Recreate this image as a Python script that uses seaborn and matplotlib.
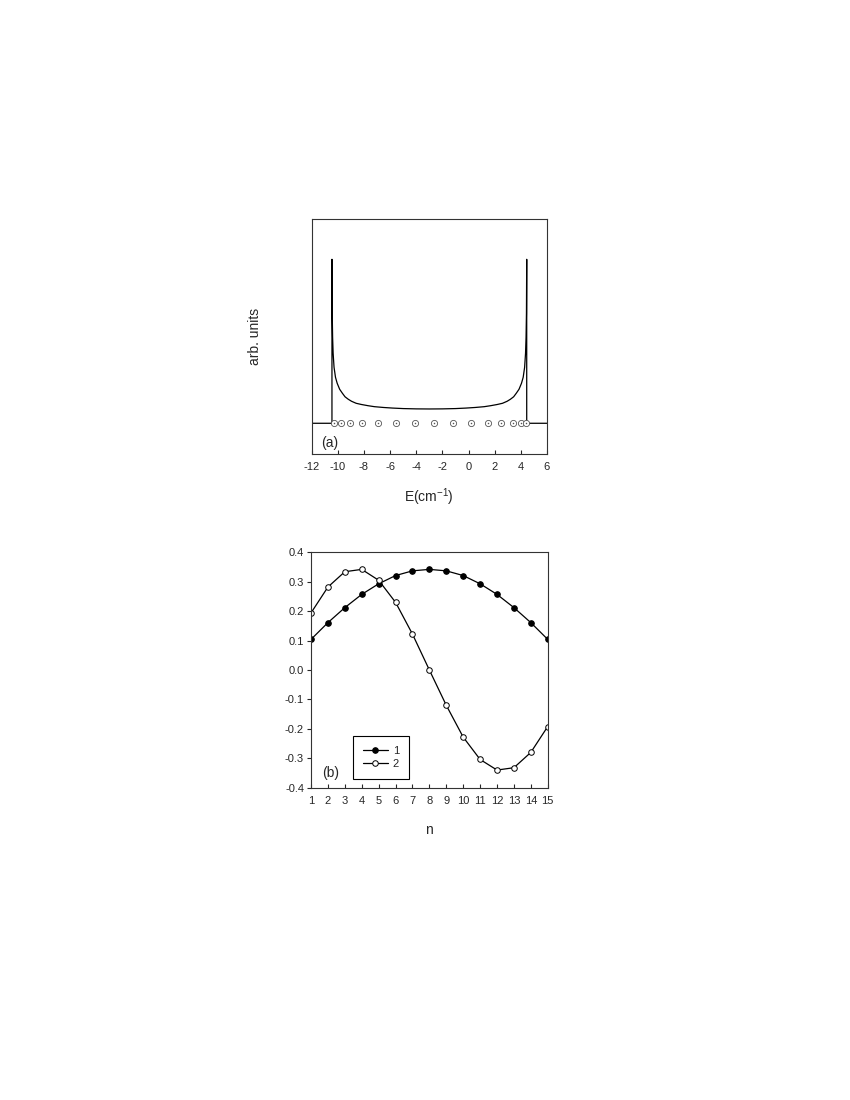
import numpy as np
import pandas as pd
import matplotlib
matplotlib.use("Agg")
import matplotlib.pyplot as plt
import seaborn as sns

sns.set_style("ticks")
plt.rcParams['font.family'] = ['Liberation Sans', 'DejaVu Sans']
plt.rcParams['axes.unicode_minus'] = False
plt.rcParams['mathtext.fontset'] = 'custom'
plt.rcParams['mathtext.rm'] = 'Liberation Sans'
plt.rcParams['mathtext.it'] = 'Liberation Sans'
plt.rcParams['mathtext.default'] = 'regular'

# %%
# (a) spectrum (arb. units, baseline = 0)
energy = [-12.0, -10.45, -10.45, -10.43, -10.40, -10.36, -10.29, -10.18, -10.05,
          -9.86, -9.65, -9.45, -9.20, -8.95, -8.60, -8.20, -7.70, -7.20, -6.50,
          -5.80, -5.00, -4.00, -3.00, -2.00, -1.00, -0.20, 0.50, 1.20, 1.70,
          2.20, 2.60, 2.95, 3.20, 3.45, 3.65, 3.86, 4.05, 4.18, 4.29, 4.36,
          4.40, 4.43, 4.45, 4.45, 6.0]
dos = [0.0, 0.0, 16.4, 11.0, 8.6, 7.0, 5.6, 4.6, 4.0,
       3.4, 3.0, 2.65, 2.4, 2.2, 2.0, 1.88, 1.76, 1.66, 1.58,
       1.52, 1.47, 1.44, 1.43, 1.44, 1.47, 1.52, 1.58, 1.66, 1.76,
       1.88, 2.0, 2.2, 2.4, 2.65, 3.0, 3.4, 4.0, 4.6, 5.6, 7.0,
       8.6, 11.0, 16.4, 0.0, 0.0]
levels = [-10.30, -9.79, -9.07, -8.14, -6.93, -5.56, -4.10, -2.63, -1.18,
          0.20, 1.48, 2.49, 3.38, 3.99, 4.39]

# (b) amplitudes on the sites
site = list(range(1, 16))
state1 = [0.104, 0.161, 0.212, 0.257, 0.293, 0.321, 0.337, 0.342,
          0.337, 0.321, 0.293, 0.257, 0.212, 0.161, 0.104]
state2 = [0.194, 0.282, 0.334, 0.342, 0.305, 0.230, 0.122, 0.0,
          -0.120, -0.228, -0.304, -0.340, -0.332, -0.280, -0.192]
ytick_vals = [-0.4, -0.3, -0.2, -0.1, 0.0, 0.1, 0.2, 0.3, 0.4]
ytick_labels = ['-0.4', '-0.3', '-0.2', '-0.1', '0.0', '0.1', '0.2', '0.3', '0.4']

# %%
fig = plt.figure(figsize=(8.5, 11), dpi=100)
ax1 = fig.add_axes([0.3667, 0.5873, 0.2768, 0.2136])
ax2 = fig.add_axes([0.3659, 0.2839, 0.2785, 0.2140])

spec = pd.DataFrame({'E': energy, 'dos': dos})
sns.lineplot(data=spec, x='E', y='dos', sort=False, estimator=None,
             color='black', lw=0.9, ax=ax1)
lv = pd.DataFrame({'E': levels, 'y': np.zeros(len(levels))})
sns.scatterplot(data=lv, x='E', y='y', marker='o', s=20, facecolor='white',
                edgecolor='#555555', linewidth=0.6, ax=ax1, zorder=3)
sns.scatterplot(data=lv, x='E', y='y', marker='o', s=1.2, color='#555555',
                linewidth=0, ax=ax1, zorder=4)

ax1.set_xlim(-12, 6)
ax1.set_ylim(-3.07, 20.43)
ax1.set_xticks(range(-12, 7, 2))
ax1.set_yticks([])
ax1.tick_params(axis='x', direction='in', length=3, width=0.8, labelsize=8, pad=6)
ax1.set_xlabel('E(cm$^{-1}$)', fontsize=10, labelpad=10)
ax1.set_ylabel('arb. units', fontsize=10, labelpad=36)
ax1.text(0.038, 0.046, '(a)', transform=ax1.transAxes, fontsize=10,
         ha='left', va='center')

# %%
sns.lineplot(x=site, y=state1, marker='o', color='black', lw=0.9, ms=4,
             mfc='black', mec='black', label='1', ax=ax2)
sns.lineplot(x=site, y=state2, marker='o', color='black', lw=0.9, ms=4,
             mfc='white', mec='black', mew=0.7, label='2', ax=ax2)

ax2.set_xlim(1, 15)
ax2.set_ylim(-0.4, 0.4)
ax2.set_xticks(site)
ax2.set_yticks(ytick_vals)
ax2.set_yticklabels(ytick_labels)
ax2.tick_params(axis='x', direction='in', length=3, width=0.8, labelsize=8, pad=6)
ax2.tick_params(axis='y', direction='out', length=3, width=0.8, labelsize=8, pad=2)
ax2.set_xlabel('n', fontsize=10, labelpad=12)
ax2.set_ylabel('')
ax2.text(0.045, 0.062, '(b)', transform=ax2.transAxes, fontsize=10,
         ha='left', va='center')

leg = ax2.legend(loc='lower left', bbox_to_anchor=(0.176, 0.038),
                 borderaxespad=0, frameon=True, fancybox=False, fontsize=8,
                 handlelength=2.3, handletextpad=0.4, borderpad=0.9,
                 labelspacing=0.25, framealpha=1)
leg.get_frame().set_edgecolor('black')
leg.get_frame().set_linewidth(0.8)

for ax in (ax1, ax2):
    for sp in ax.spines.values():
        sp.set_color('#333333')
        sp.set_linewidth(0.8)

fig.savefig('out.png', dpi=100)
